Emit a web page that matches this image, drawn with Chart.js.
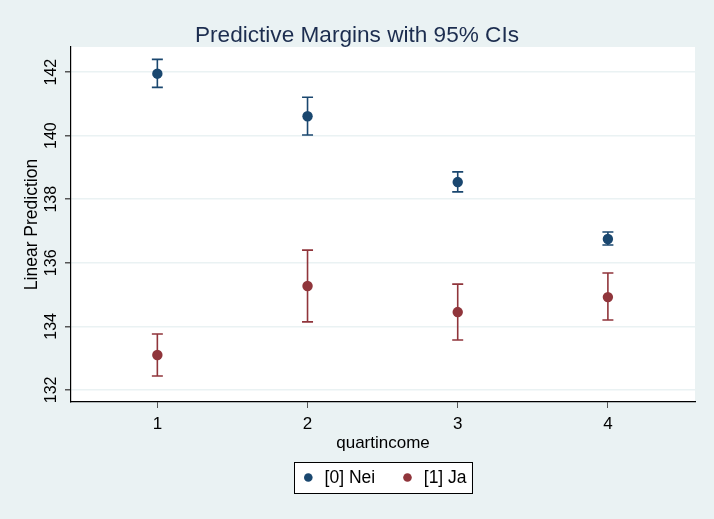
<!DOCTYPE html>
<html><head><meta charset="utf-8">
<script src="https://cdn.jsdelivr.net/npm/chart.js@4"></script>
<style>html,body{margin:0;padding:0;background:#eaf2f3;}#wrap{width:714px;height:519px;}</style>
</head><body><div id="wrap"><canvas id="c" width="714" height="519"></canvas></div>
<script>
const categories = [1, 2, 3, 4];
const yTicks = [132, 134, 136, 138, 140, 142];
const neiMean = [141.95, 140.61, 138.54, 136.75];
const neiLo = [141.52, 140.02, 138.23, 136.56];
const neiHi = [142.40, 141.21, 138.86, 136.97];
const jaMean = [133.10, 135.27, 134.45, 134.92];
const jaLo = [132.44, 134.14, 133.57, 134.20];
const jaHi = [133.76, 136.40, 135.33, 135.68];
const seriesNames = ['[0] Nei', '[1] Ja'];
const titleText = 'Predictive Margins with 95% CIs';
const NAVY = '#1a476f', MAROON = '#90353b';
const FONT = 'Liberation Sans, Arial, sans-serif';

const errorBars = {
  id: 'errorBars',
  beforeDatasetsDraw(chart) {
    const {ctx, scales: {x, y}} = chart;
    const sets = [[neiLo, neiHi, NAVY], [jaLo, jaHi, MAROON]];
    ctx.save();
    ctx.lineWidth = 1.6;
    sets.forEach(([lo, hi, col]) => {
      ctx.strokeStyle = col;
      categories.forEach((c, i) => {
        const px = x.getPixelForValue(c);
        const p1 = y.getPixelForValue(lo[i]);
        const p2 = y.getPixelForValue(hi[i]);
        ctx.beginPath();
        ctx.moveTo(px, p1); ctx.lineTo(px, p2);
        ctx.moveTo(px - 5.5, p1); ctx.lineTo(px + 5.5, p1);
        ctx.moveTo(px - 5.5, p2); ctx.lineTo(px + 5.5, p2);
        ctx.stroke();
      });
    });
    ctx.restore();
  }
};

const frame = {
  id: 'frame',
  beforeDraw(chart) {
    const {ctx} = chart;
    const a = chart.chartArea;
    ctx.save();
    ctx.fillStyle = '#eaf2f3';
    ctx.fillRect(0, 0, chart.width, chart.height);
    ctx.fillStyle = '#ffffff';
    ctx.fillRect(a.left, a.top, a.right - a.left, a.bottom - a.top);
    ctx.restore();
  },
  afterDraw(chart) {
    const {ctx} = chart;
    const a = chart.chartArea;
    const y = chart.scales.y;
    ctx.save();
    // title
    ctx.fillStyle = '#1c2d4f';
    ctx.font = '22.6px ' + FONT;
    ctx.textAlign = 'center';
    ctx.textBaseline = 'alphabetic';
    ctx.fillText(titleText, chart.width / 2, 42);
    // rotated y tick labels
    ctx.fillStyle = '#000';
    ctx.font = '16px ' + FONT;
    ctx.textAlign = 'center';
    ctx.textBaseline = 'middle';
    yTicks.forEach(v => {
      const py = y.getPixelForValue(v);
      ctx.save();
      ctx.translate(a.left - 20, py);
      ctx.rotate(-Math.PI / 2);
      ctx.fillText(String(v), 0, 1);
      ctx.restore();
    });
    // legend
    const fs = 17.5;
    ctx.font = fs + 'px ' + FONT;
    const colors = [NAVY, MAROON];
    const r = 4.3, gapMarkerText = 12, gapItems = 28, padL = 10, padR = 5;
    const widths = seriesNames.map(s => ctx.measureText(s).width);
    const total = padL + widths.reduce((s, w) => s + 2 * r + gapMarkerText + w, 0) + gapItems + padR;
    const cx = (a.left + a.right) / 2;
    const left = Math.round(cx - total / 2), top = 462, h = 31;
    ctx.fillStyle = '#fff';
    ctx.fillRect(left, top, total, h);
    ctx.strokeStyle = '#000';
    ctx.lineWidth = 1;
    ctx.strokeRect(left + 0.5, top + 0.5, Math.round(total), h);
    let xx = left + padL;
    const cy = top + h / 2;
    ctx.textAlign = 'left';
    seriesNames.forEach((s, i) => {
      ctx.fillStyle = colors[i];
      ctx.beginPath();
      ctx.arc(xx + r, cy, r, 0, Math.PI * 2);
      ctx.fill();
      xx += 2 * r + gapMarkerText;
      ctx.fillStyle = '#000';
      ctx.fillText(s, xx, cy + 1);
      xx += widths[i] + gapItems;
    });
    ctx.restore();
  }
};

new Chart(document.getElementById('c'), {
  type: 'scatter',
  data: {
    datasets: [
      {label: seriesNames[0], data: categories.map((c, i) => ({x: c, y: neiMean[i]})),
       backgroundColor: NAVY, borderColor: NAVY, pointRadius: 5.2, pointBorderWidth: 0, pointStyle: 'circle'},
      {label: seriesNames[1], data: categories.map((c, i) => ({x: c, y: jaMean[i]})),
       backgroundColor: MAROON, borderColor: MAROON, pointRadius: 5.2, pointBorderWidth: 0, pointStyle: 'circle'}
    ]
  },
  plugins: [errorBars, frame],
  options: {
    responsive: false,
    animation: false,
    devicePixelRatio: 1,
    layout: {padding: {top: 47, right: 19, bottom: 65, left: 0}},
    plugins: {
      title: {display: false},
      legend: {display: false},
      tooltip: {enabled: false}
    },
    scales: {
      x: {
        type: 'linear', min: 0.425, max: 4.58,
        afterBuildTicks: s => { s.ticks = categories.map(v => ({value: v})); },
        afterFit: s => { s.height = 52; },
        grid: {drawOnChartArea: false, drawTicks: true, tickLength: 6, tickColor: '#555'},
        border: {color: '#000', width: 1.2},
        ticks: {color: '#000', font: {family: FONT, size: 17}, padding: 6, maxRotation: 0},
        title: {display: true, text: 'quartincome', color: '#000', font: {family: FONT, size: 17}, padding: {top: 0, bottom: 0}}
      },
      y: {
        type: 'linear', min: 131.62, max: 142.79,
        afterBuildTicks: s => { s.ticks = yTicks.map(v => ({value: v})); },
        afterFit: s => { s.width = 71; },
        grid: {color: '#eaf2f3', lineWidth: 1.5, drawTicks: true, tickLength: 6, tickColor: '#555'},
        border: {color: '#000', width: 1.2},
        ticks: {display: false},
        title: {display: true, text: 'Linear Prediction', color: '#000', font: {family: FONT, size: 17.5}, padding: {top: 21.5, bottom: 0}}
      }
    }
  }
});
</script></body></html>
